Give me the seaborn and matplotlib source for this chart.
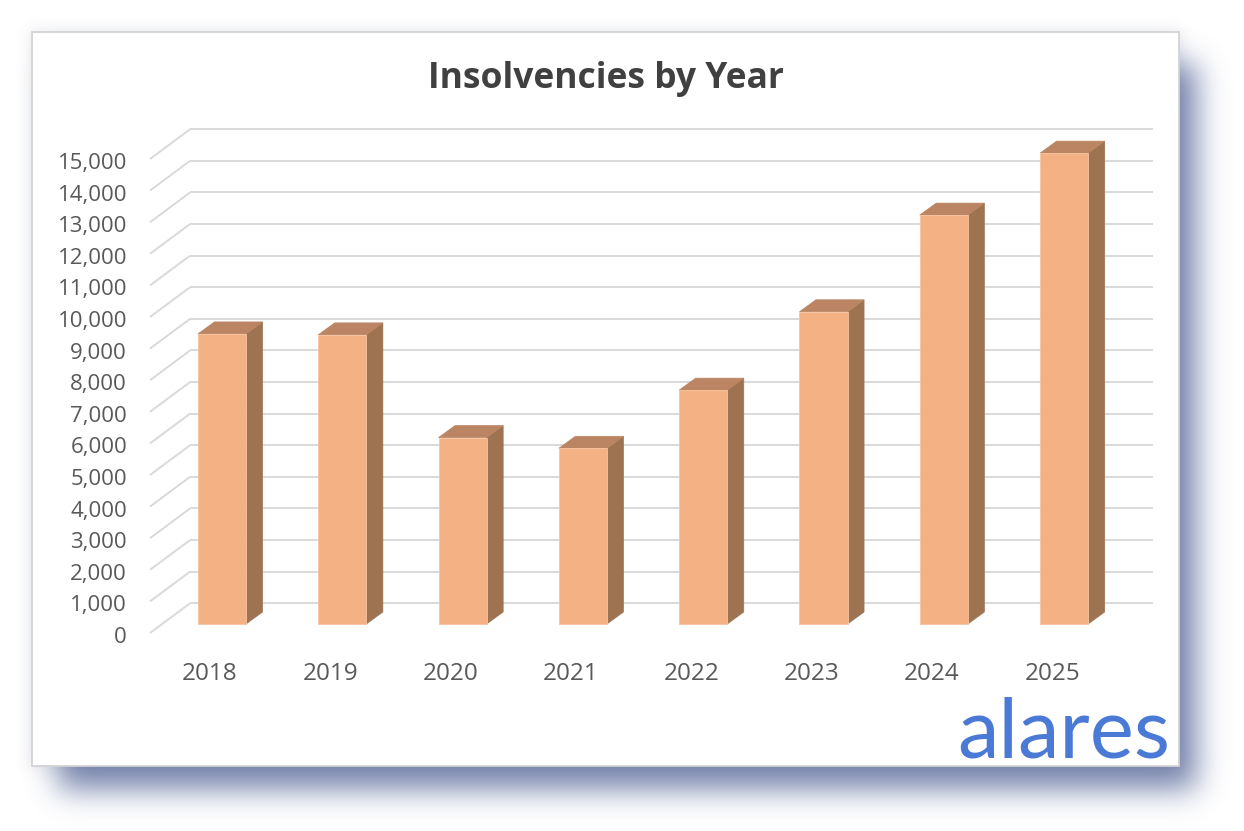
import numpy as np
import pandas as pd
import seaborn as sns
import matplotlib
matplotlib.use("Agg")
import matplotlib.pyplot as plt
from matplotlib.patches import Polygon, Rectangle
from matplotlib.colors import to_rgb

# ---------------- data ----------------
years = ["2018", "2019", "2020", "2021", "2022", "2023", "2024", "2025"]
insolvencies = [9180, 9150, 5900, 5560, 7400, 9880, 12940, 14900]
tick_values = list(range(0, 16000, 1000))      # labelled 0 .. 15,000
grid_values = list(range(0, 16000, 1000))      # gridlines 0 .. 15,000
title_text = "Insolvencies by Year"
logo_text = "alares"

# ---------------- style ----------------
FRONT = "#F4B183"
SIDE = "#9D7352"
TOP = "#BB8563"
GRID = "#D9D9D9"
TEXT = "#595959"
TITLE = "#404040"
LOGO = "#4A7AD6"

W, H = 1244, 831
sns.set_theme(style="white")
plt.rcParams["font.family"] = ["Open Sans", "DejaVu Sans"]

fig = plt.figure(figsize=(W / 100, H / 100), dpi=100)
fig.patch.set_facecolor("white")
ax = fig.add_axes([0, 0, 1, 1])

# pixel mapping of the bar-front plane
X0_PX, PX_PER_CAT = 222.0, 120.3
Y0_PX, PX_PER_UNIT = 624.0, 0.0316

def px(x, y):
    """pixel (from top-left) -> axes/figure fraction"""
    return (x / W, 1 - y / H)

# ---------------- frame + soft shadows (decoration) ----------------
def blurred_box(x0, x1, n, sigma):
    ind = np.zeros(n)
    ind[int(x0):int(x1)] = 1.0
    k = np.arange(-4 * sigma, 4 * sigma + 1)
    g = np.exp(-0.5 * (k / sigma) ** 2)
    g /= g.sum()
    return np.convolve(ind, g, mode="same")

def shadow_layer(x0, y0, x1, y1, sigma, color, alpha):
    mx = blurred_box(x0, x1, W, sigma)
    my = blurred_box(y0, y1, H, sigma)
    a = np.outer(my, mx) * alpha
    img = np.zeros((H, W, 4))
    img[..., :3] = to_rgb(color)
    img[..., 3] = a
    ax.imshow(img, extent=[0, 1, 0, 1], transform=ax.transAxes, aspect="auto",
              interpolation="bilinear", zorder=0.2, origin="upper")

shadow_layer(30, 30, 1181, 768, 7, "#8A93A6", 0.2)      # faint grey halo
shadow_layer(58, 64, 1196, 789, 15, "#5C6C9C", 0.85)     # blue drop shadow
ax.add_patch(Rectangle(px(32, 766), (1179 - 32) / W, (766 - 32) / H,
                       transform=ax.transAxes, facecolor="white",
                       edgecolor="#D3D3D3", linewidth=1.3, zorder=0.5))

# ---------------- bars ----------------
df = pd.DataFrame({"Year": years, "Insolvencies": insolvencies})
sns.barplot(data=df, x="Year", y="Insolvencies", color=FRONT, width=0.4,
            saturation=1, edgecolor="#F7C4A0", linewidth=0.6, ax=ax, zorder=4)
bars = [p for p in ax.patches if isinstance(p, Rectangle) and p.get_zorder() == 4]

ax.set_xlim((0 - X0_PX) / PX_PER_CAT, (W - X0_PX) / PX_PER_CAT)
ax.set_ylim((Y0_PX - H) / PX_PER_UNIT, Y0_PX / PX_PER_UNIT)
ax.axis("off")

# depth offsets (data units)
BAR_DX, BAR_DY = 16.5 / PX_PER_CAT, 12.0 / PX_PER_UNIT
WALL_X0 = (190 - X0_PX) / PX_PER_CAT
WALL_X1 = (1153 - X0_PX) / PX_PER_CAT
FLOOR_X = (150 - X0_PX) / PX_PER_CAT
WALL_DY = (Y0_PX - 603.3) / PX_PER_UNIT
FLOOR_DY = (Y0_PX - 633.0) / PX_PER_UNIT

for b in bars:
    x0, w, h = b.get_x(), b.get_width(), b.get_height()
    side = [(x0 + w, 0), (x0 + w + BAR_DX, BAR_DY), (x0 + w + BAR_DX, h + BAR_DY), (x0 + w, h)]
    top = [(x0, h), (x0 + BAR_DX, h + BAR_DY), (x0 + w + BAR_DX, h + BAR_DY), (x0 + w, h)]
    ax.add_patch(Polygon(side, closed=True, facecolor=SIDE, edgecolor=SIDE, linewidth=0.5, zorder=3.5))
    ax.add_patch(Polygon(top, closed=True, facecolor=TOP, edgecolor=TOP, linewidth=0.5, zorder=3.5))

# ---------------- gridlines (back wall + side wall diagonals) ----------------
for v in grid_values:
    ax.plot([WALL_X0, WALL_X1], [v + WALL_DY, v + WALL_DY], color=GRID, lw=1.4,
            solid_capstyle="butt", zorder=2)
    ax.plot([FLOOR_X, WALL_X0], [v + FLOOR_DY, v + WALL_DY], color=GRID, lw=1.4,
            solid_capstyle="butt", zorder=2)

# ---------------- tick labels ----------------
YLAB_X = (127 - X0_PX) / PX_PER_CAT
YLAB_BASE = -10.0 / PX_PER_UNIT          # baseline sits below the floor-line end
for v in tick_values:
    ax.text(YLAB_X, v + FLOOR_DY + YLAB_BASE, f"{v:,}", ha="right", va="baseline",
            fontsize=16, color=TEXT, zorder=5)

XLAB_Y = (Y0_PX - 680.0) / PX_PER_UNIT
XLAB_DX = -12.0 / PX_PER_CAT
for i, yr in enumerate(years):
    ax.text(i + XLAB_DX, XLAB_Y, yr, ha="center", va="baseline",
            fontsize=17.5, color=TEXT, zorder=5)

# ---------------- title and logo ----------------
tx, ty = px(606, 88)
ax.text(tx, ty, title_text, transform=ax.transAxes, ha="center", va="baseline",
        fontsize=25.5, fontweight="bold", color=TITLE, zorder=5)
lx, ly = px(1170, 758)
ax.text(lx, ly, logo_text, transform=ax.transAxes, ha="right", va="baseline",
        fontsize=60, color=LOGO, family=["Lato", "DejaVu Sans"], zorder=5)

fig.savefig("out.png", dpi=100, facecolor="white")
